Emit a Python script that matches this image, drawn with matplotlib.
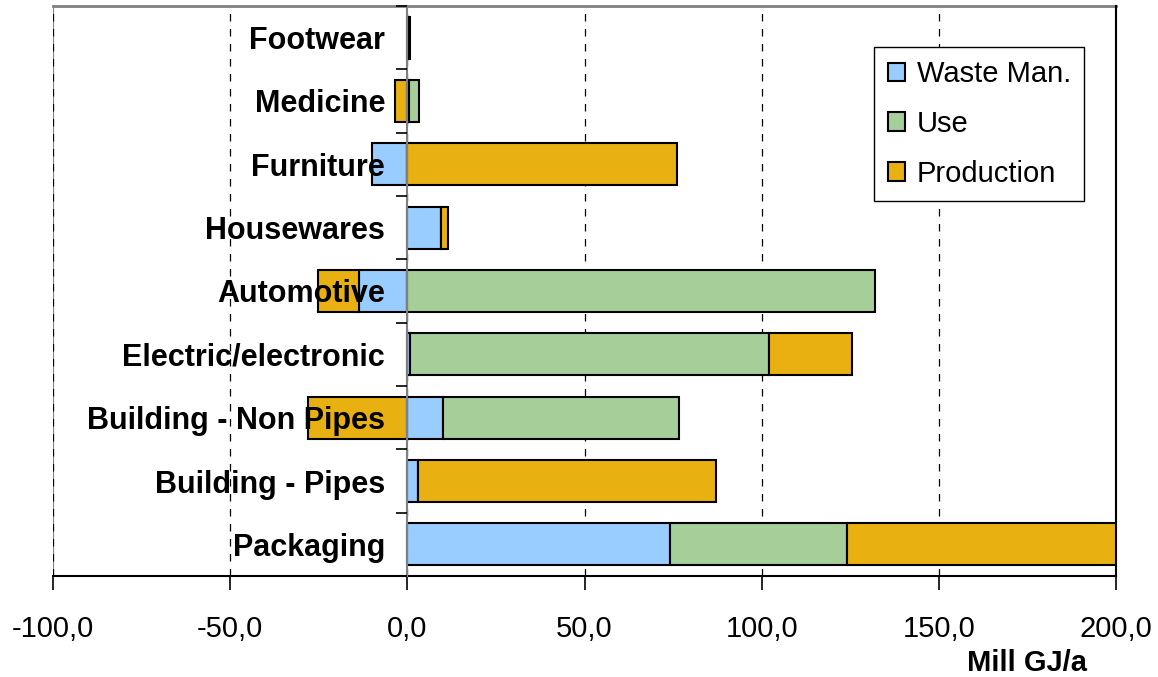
import numpy as np
import matplotlib
matplotlib.use("Agg")
import matplotlib.pyplot as plt
from matplotlib.ticker import FixedLocator, FuncFormatter

plt.rcParams['font.family'] = ['Liberation Sans', 'DejaVu Sans']

# bottom -> top
categories = ['Packaging', 'Building - Pipes', 'Building - Non Pipes',
              'Electric/electronic', 'Automotive', 'Housewares',
              'Furniture', 'Medicine', 'Footwear']
waste = [74.0, 3.1, 10.2, 0.7, -13.6, 9.6, -9.9, 0.5, 0.3]
use = [50.0, 0.0, 66.6, 101.3, 131.9, 0.0, 0.0, 2.9, 0.2]
production = [95.0, 83.9, -28.0, 23.4, -11.7, 2.0, 76.0, -3.4, 0.2]

series = [('Waste Man.', waste, '#99CCFF'),
          ('Use', use, '#A6CE98'),
          ('Production', production, '#E9B012')]

fig = plt.figure(figsize=(11.58, 6.77), dpi=100)
ax = fig.add_axes([53/1158, 101/677, (1116-53)/1158, 570/677])

y = np.arange(len(categories))
pos = np.zeros(len(categories))
neg = np.zeros(len(categories))
for name, vals, col in series:
    vals = np.array(vals)
    left = np.where(vals >= 0, pos, neg)
    ax.barh(y, vals, left=left, height=0.66, color=col, edgecolor='black',
            linewidth=1.5, label=name, zorder=3)
    pos = pos + np.where(vals >= 0, vals, 0)
    neg = neg + np.where(vals < 0, vals, 0)

ax.set_xlim(-100, 200)
ax.set_ylim(-0.5, len(categories) - 0.5)

# x axis
ax.set_xticks(np.arange(-100, 201, 50))
ax.xaxis.set_major_formatter(FuncFormatter(lambda v, p: f'{v:.1f}'.replace('.', ',')))
ax.tick_params(axis='x', direction='out', length=10, width=1.2, labelsize=21, pad=18)
ax.grid(axis='x', color='black', linestyle=(0, (6, 6)), linewidth=0.9, zorder=0)
ax.set_xlabel('Mill GJ/a', fontsize=21, fontweight='bold', ha='right')
ax.xaxis.set_label_coords(0.973, -0.128)

# y axis at zero, labels drawn over the bars
ax.spines['left'].set_position(('data', 0))
ax.spines['left'].set_color('#808080')
ax.spines['left'].set_linewidth(1.5)
ax.spines['left'].set_zorder(4)
ax.set_yticks(y)
ax.set_yticklabels(categories, fontsize=22, fontweight='bold')
ax.yaxis.set_minor_locator(FixedLocator(np.arange(-0.5, len(categories), 1.0)))
ax.tick_params(axis='y', which='major', length=0, pad=16)
ax.tick_params(axis='y', which='minor', length=8, width=1.2, direction='out',
               color='black')
ax.yaxis.set_zorder(5)

ax.spines['top'].set_color('#808080')
ax.spines['top'].set_linewidth(2)
ax.spines['right'].set_color('black')
ax.spines['right'].set_linewidth(1.5)
ax.spines['right'].set_zorder(5)
ax.spines['bottom'].set_linewidth(1.5)

# left frame line at -100
ax.axvline(-100, color='#808080', linewidth=1.5, zorder=1)

leg = ax.legend(loc='upper right', bbox_to_anchor=(0.970, 0.928), borderaxespad=0,
                fontsize=21, fancybox=False, edgecolor='black', framealpha=1,
                handlelength=0.6, handleheight=0.6, handletextpad=0.4,
                labelspacing=0.75, borderpad=0.45)
leg.get_frame().set_linewidth(1.0)
leg.set_zorder(6)

fig.savefig('out.png', dpi=100)
